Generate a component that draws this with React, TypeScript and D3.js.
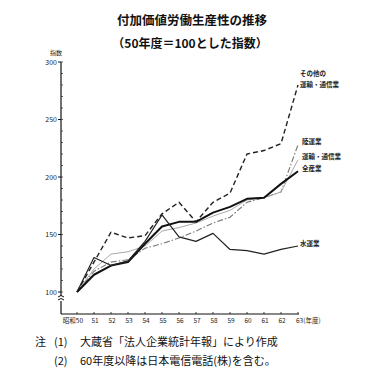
import React from "react";
import * as d3 from "d3";

const years = [50, 51, 52, 53, 54, 55, 56, 57, 58, 59, 60, 61, 62, 63];
const yearLabels = ["昭和50", "51", "52", "53", "54", "55", "56", "57", "58", "59", "60", "61", "62", "63(年度)"];
const yTicks = [100, 150, 200, 250, 300];

const otherTransport = [100, 126, 152, 147, 149, 168, 178, 161, 178, 186, 220, 223, 229, 280];
const landTransport = [100, 118, 126, 128, 138, 142, 147, 153, 160, 165, 178, 182, 187, 228];
const transportComm = [100, 120, 133, 135, 140, 153, 156, 160, 166, 171, 180, 182, 187, 215];
const allIndustry = [100, 115, 123, 126, 142, 157, 161, 161, 169, 174, 181, 182, 194, 205];
const waterTransport = [100, 130, 123, 127, 144, 167, 148, 144, 151, 137, 136, 133, 137, 140];

const series = [
  { name: "その他の運輸・通信業", values: otherTransport, stroke: "#222", width: 1.4, dash: "5,3" },
  { name: "陸運業", values: landTransport, stroke: "#777", width: 1.1, dash: "6,2,1.5,2" },
  { name: "運輸・通信業", values: transportComm, stroke: "#aaa", width: 1, dash: "" },
  { name: "全産業", values: allIndustry, stroke: "#111", width: 2, dash: "" },
  { name: "水運業", values: waterTransport, stroke: "#222", width: 1.2, dash: "" },
];

const FONT = "'Noto Sans CJK JP', 'Noto Sans', sans-serif";

export default function App() {
  const x = d3.scaleLinear().domain([50, 63]).range([77, 298]);
  const y = d3.scaleLinear().domain([100, 300]).range([292, 62]);
  const axisX = 61;
  const axisY = 314;
  const line = d3
    .line<number>()
    .x((_, i) => x(years[i]))
    .y((v) => y(v));
  const minor = d3.range(100, 301, 10);

  return (
    <svg
      width={375}
      height={377}
      style={{ position: "fixed", left: 0, top: 0, background: "#fff" }}
      fontFamily={FONT}
    >
      <rect width={375} height={377} fill="#fff" />
      <text x={192} y={25} textAnchor="middle" fontSize={12.5} fontWeight="bold" fill="#111">
        付加価値労働生産性の推移
      </text>
      <text x={190} y={48} textAnchor="middle" fontSize={12} fontWeight="bold" fill="#111">
        （50年度＝100とした指数）
      </text>
      <text x={56} y={55} textAnchor="middle" fontSize={6} fill="#222">
        指数
      </text>

      {/* y axis */}
      <line x1={axisX} x2={axisX} y1={y(300)} y2={296} stroke="#111" strokeWidth={1.2} />
      <path
        d={`M${axisX - 3},297 Q${axisX},294 ${axisX + 3},297 M${axisX - 3},300 Q${axisX},297 ${axisX + 3},300`}
        fill="none"
        stroke="#111"
        strokeWidth={1}
      />
      <line x1={axisX} x2={axisX} y1={301} y2={axisY} stroke="#111" strokeWidth={1.2} />
      {minor.map((v) => (
        <line key={"m" + v} x1={axisX} x2={axisX + 2} y1={y(v)} y2={y(v)} stroke="#333" strokeWidth={0.8} />
      ))}
      {yTicks.map((v) => (
        <g key={"t" + v}>
          <line x1={axisX - 3} x2={axisX} y1={y(v)} y2={y(v)} stroke="#111" strokeWidth={1} />
          <text x={axisX - 4} y={y(v) + 2.5} textAnchor="end" fontSize={7} fill="#222">
            {v}
          </text>
        </g>
      ))}

      {/* x axis */}
      <line x1={axisX} x2={x(63) + 1} y1={axisY} y2={axisY} stroke="#111" strokeWidth={1.2} />
      {years.map((yr, i) => (
        <g key={"x" + yr}>
          <line x1={x(yr)} x2={x(yr)} y1={axisY} y2={axisY - 2} stroke="#111" strokeWidth={0.8} />
          <text
            x={i === 0 ? x(yr) + 6 : x(yr) + 1}
            y={axisY + 9}
            textAnchor={i === 0 ? "end" : i === years.length - 1 ? "start" : "middle"}
            fontSize={6.5}
            fill="#222"
            dx={i === years.length - 1 ? -3 : 0}
          >
            {yearLabels[i]}
          </text>
        </g>
      ))}

      {/* series */}
      {series.map((s) => (
        <path
          key={s.name}
          d={line(s.values) || ""}
          fill="none"
          stroke={s.stroke}
          strokeWidth={s.width}
          strokeDasharray={s.dash || undefined}
          strokeLinejoin="round"
        />
      ))}

      {/* labels */}
      <g fontSize={6.5} fill="#222" fontWeight="bold">
        <text x={300} y={76}>その他の</text>
        <text x={300} y={87}>運輸・通信業</text>
        <text x={302} y={144}>陸運業</text>
        <text x={302} y={159}>運輸・通信業</text>
        <text x={302} y={171}>全産業</text>
        <text x={300} y={246}>水運業</text>
      </g>

      {/* notes */}
      <g fontSize={11} fill="#111">
        <text x={35} y={346}>注</text>
        <text x={54} y={346}>(1)</text>
        <text x={80} y={346}>大蔵省「法人企業統計年報」により作成</text>
        <text x={54} y={365}>(2)</text>
        <text x={80} y={365}>60年度以降は日本電信電話(株)を含む。</text>
      </g>
    </svg>
  );
}
